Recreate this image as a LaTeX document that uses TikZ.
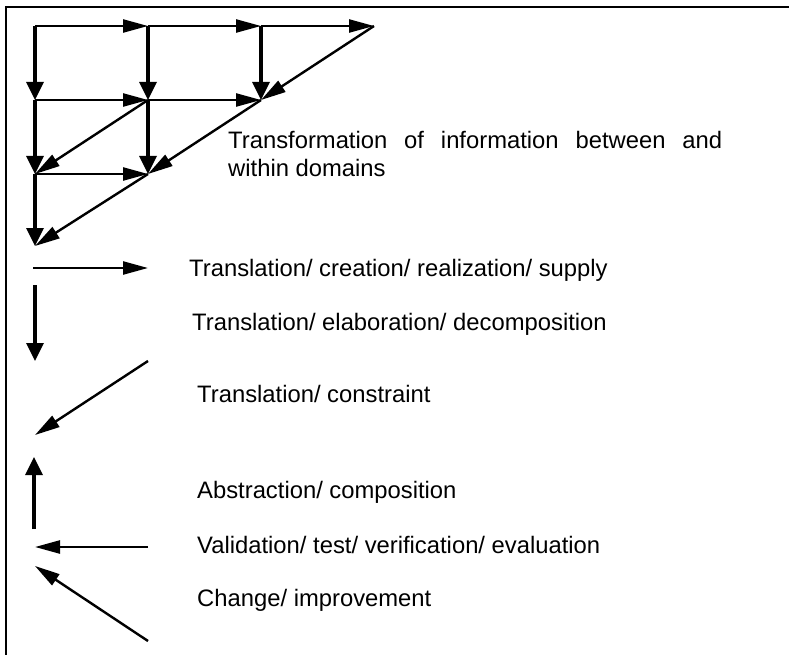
\documentclass[tikz,border=0pt]{standalone}
\usepackage{fontspec}
\setmainfont{Liberation Sans}
\usetikzlibrary{arrows.meta}

\begin{document}
\begin{tikzpicture}[x=1pt,y=-1pt,
  flow/.style={line width=2.4pt,-{Triangle[length=25pt,width=13pt]}},
  vflow/.style={line width=3.4pt,-{Triangle[length=18pt,width=17pt]}},
  legendtext/.style={anchor=base west,inner sep=0pt,font=\fontsize{23.8}{28}\selectfont}]

\useasboundingbox (0,0) rectangle (789,655);

% frame
\draw[line width=1.6pt] (6,655) -- (6,7) -- (789,7);

% grid points of the domain triangle
\coordinate (a1) at (35,26);
\coordinate (a2) at (148,26);
\coordinate (a3) at (261,26);
\coordinate (a4) at (374,26);
\coordinate (b1) at (35,100);
\coordinate (b2) at (148,100);
\coordinate (b3) at (261,100);
\coordinate (c1) at (35,174);
\coordinate (c2) at (148,174);
\coordinate (d1) at (35,246);

% horizontal transformations
\draw[flow] (a1) -- (a2);
\draw[flow] (a2) -- (a3);
\draw[flow] (a3) -- (a4);
\draw[flow] (b1) -- (b2);
\draw[flow] (b2) -- (b3);
\draw[flow] (c1) -- (c2);

% vertical transformations
\draw[vflow] (a1) -- (b1);
\draw[vflow] (a2) -- (b2);
\draw[vflow] (a3) -- (b3);
\draw[vflow] (b1) -- (c1);
\draw[vflow] (b2) -- (c2);
\draw[vflow] (c1) -- (d1);

% diagonal transformations
\draw[flow] (a4) -- (b3);
\draw[flow] (b3) -- (c2);
\draw[flow] (c2) -- (d1);
\draw[flow] (b2) -- (c1);

\node[legendtext] (title1) at (228,149)
  {\makebox[494pt][s]{Transformation of information between and}};
\node[legendtext] (title2) at (228,176) {within domains};

% legend arrows
\coordinate (h0) at (33,268);   \coordinate (h1) at (148,268);
\coordinate (v0) at (35,285);   \coordinate (v1) at (35,361);
\coordinate (g0) at (148,361);  \coordinate (g1) at (35,435);
\coordinate (u0) at (34,529);   \coordinate (u1) at (34,457);
\coordinate (l0) at (148,547);  \coordinate (l1) at (35,547);
\coordinate (r0) at (148,641);  \coordinate (r1) at (35,566);

\draw[flow] (h0) -- (h1);
\draw[vflow] (v0) -- (v1);
\draw[flow] (g0) -- (g1);
\draw[vflow] (u0) -- (u1);
\draw[flow] (l0) -- (l1);
\draw[flow] (r0) -- (r1);

% legend texts
\node[legendtext] (t1) at (189,276) {Translation/ creation/ realization/ supply};
\node[legendtext] (t2) at (192,330) {Translation/ elaboration/ decomposition};
\node[legendtext] (t3) at (197,402) {Translation/ constraint};
\node[legendtext] (t4) at (197,498) {Abstraction/ composition};
\node[legendtext] (t5) at (197,553) {Validation/ test/ verification/ evaluation};
\node[legendtext] (t6) at (197,606) {Change/ improvement};

\end{tikzpicture}
\end{document}
